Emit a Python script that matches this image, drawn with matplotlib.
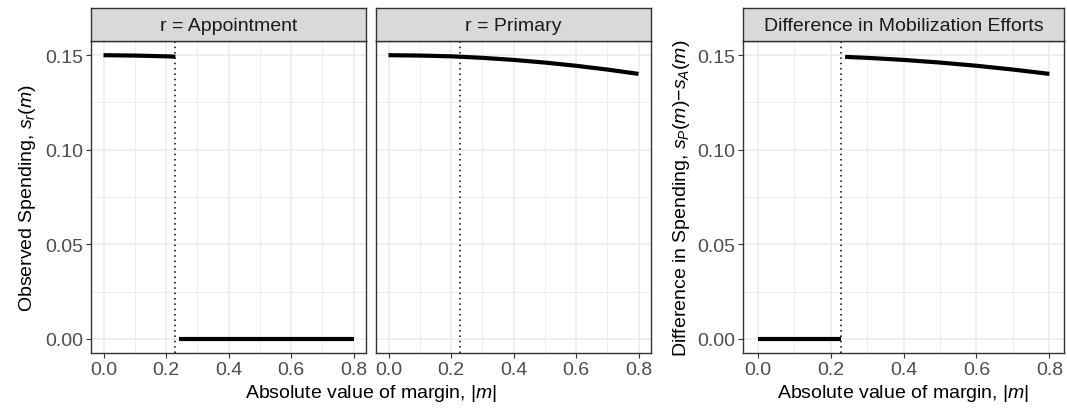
import numpy as np
import matplotlib
matplotlib.use("Agg")
import matplotlib.pyplot as plt
from matplotlib.ticker import MultipleLocator

plt.rcParams['font.family'] = ['Liberation Sans', 'DejaVu Sans']
plt.rcParams['mathtext.fontset'] = 'custom'
plt.rcParams['mathtext.it'] = 'Liberation Sans:italic'
plt.rcParams['mathtext.rm'] = 'Liberation Sans'

# values
cutoff = 0.23

appt_hi_x = [0.0, 0.1, 0.2, 0.23]
appt_hi_y = [0.150, 0.1498, 0.1494, 0.1492]
appt_lo_x = [0.24, 0.8]
appt_lo_y = [0.0, 0.0]

prim_x = [0.0, 0.1, 0.2, 0.3, 0.4, 0.5, 0.6, 0.7, 0.8]
prim_y = [0.150, 0.1498, 0.1494, 0.1486, 0.1475, 0.1461, 0.1444, 0.1424, 0.1401]

diff_lo_x = [0.0, 0.23]
diff_lo_y = [0.0, 0.0]
diff_hi_x = [0.24, 0.3, 0.4, 0.5, 0.6, 0.7, 0.8]
diff_hi_y = [0.1491, 0.1486, 0.1475, 0.1461, 0.1444, 0.1424, 0.1401]

xticks = [0.0, 0.2, 0.4, 0.6, 0.8]
yticks = [0.00, 0.05, 0.10, 0.15]

FS = 14
W, H = 1067, 410
fig = plt.figure(figsize=(W / 100, H / 100), dpi=100)


def fx(px):
    return px / W


def fy(px):
    return 1 - px / H


strip_top, strip_bot, plot_bot = 9, 42, 354


def make_panel(left, right, title, show_y):
    ax = fig.add_axes([fx(left), fy(plot_bot), fx(right - left), fy(strip_bot) - fy(plot_bot)])
    sax = fig.add_axes([fx(left), fy(strip_bot), fx(right - left), fy(strip_top) - fy(strip_bot)])
    sax.set_facecolor('#d9d9d9')
    sax.set_xticks([])
    sax.set_yticks([])
    for s in sax.spines.values():
        s.set_color('#333333')
        s.set_linewidth(1.0)
    sax.text(0.5, 0.47, title, ha='center', va='center', fontsize=FS, color='#1a1a1a',
             transform=sax.transAxes)

    ax.set_xlim(-0.04, 0.84)
    ax.set_ylim(-0.0075, 0.1575)
    ax.set_xticks(xticks)
    ax.set_yticks(yticks)
    ax.set_xticklabels(['0.0', '0.2', '0.4', '0.6', '0.8'])
    ax.set_yticklabels(['0.00', '0.05', '0.10', '0.15'])
    ax.xaxis.set_minor_locator(MultipleLocator(0.1))
    ax.yaxis.set_minor_locator(MultipleLocator(0.025))
    ax.grid(which='major', color='#ebebeb', lw=1.1)
    ax.grid(which='minor', color='#ebebeb', lw=0.6)
    ax.set_axisbelow(True)
    ax.tick_params(which='minor', length=0)
    ax.tick_params(which='major', length=3.5, width=0.8, color='#333333',
                   labelsize=FS, labelcolor='#4d4d4d', pad=2)
    if not show_y:
        ax.tick_params(axis='y', left=False, labelleft=False)
    for s in ax.spines.values():
        s.set_color('#333333')
        s.set_linewidth(1.0)
    ax.axvline(cutoff, color='black', lw=1.1, ls=(0, (1, 2.5)))
    return ax


ax1 = make_panel(91, 366, 'r = Appointment', True)
ax1.plot(appt_hi_x, appt_hi_y, color='black', lw=3, solid_capstyle='butt')
ax1.plot(appt_lo_x, appt_lo_y, color='black', lw=3, solid_capstyle='butt')
ax1.set_ylabel(r'Observed Spending, $s_r(m)$', fontsize=FS, labelpad=5)

ax2 = make_panel(376, 651, 'r = Primary', False)
ax2.plot(prim_x, prim_y, color='black', lw=3, solid_capstyle='butt')

ax3 = make_panel(743, 1064, 'Difference in Mobilization Efforts', True)
ax3.plot(diff_lo_x, diff_lo_y, color='black', lw=3, solid_capstyle='butt')
ax3.plot(diff_hi_x, diff_hi_y, color='black', lw=3, solid_capstyle='butt')
ax3.set_ylabel(r'Difference in Spending, $s_P(m)$$-$$s_A(m)$', fontsize=FS, labelpad=4)
ax3.set_xlabel(r'Absolute value of margin, |$m$|', fontsize=FS, labelpad=3)

fig.text(fx((91 + 651) / 2), fy(394), r'Absolute value of margin, |$m$|', ha='center', va='center',
         fontsize=FS)

fig.savefig('out.png', dpi=100)
